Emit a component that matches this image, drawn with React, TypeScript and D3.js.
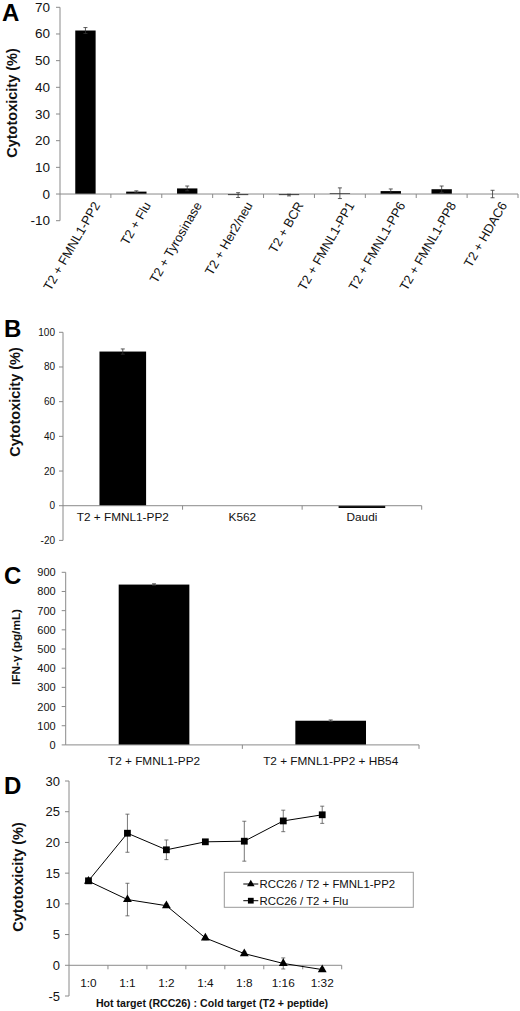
import React from "react";
import * as d3 from "d3";

// ---------- Panel A ----------
const aCategories = [
  "T2 + FMNL1-PP2",
  "T2 + Flu",
  "T2 + Tyrosinase",
  "T2 + Her2/neu",
  "T2 + BCR",
  "T2 + FMNL1-PP1",
  "T2 + FMNL1-PP6",
  "T2 + FMNL1-PP8",
  "T2 + HDAC6",
];
const aValues = [61.3, 0.9, 2.1, -0.4, -0.4, 0.3, 1.1, 1.8, 0];
const aErrors = [1.1, 0.3, 0.9, 0.9, 0.3, 2.0, 0.8, 1.2, 1.4];
const aTicks = [-10, 0, 10, 20, 30, 40, 50, 60, 70];

// ---------- Panel B ----------
const bCategories = ["T2 + FMNL1-PP2", "K562", "Daudi"];
const bValues = [88.9, 0, -1.3];
const bErrors = [1.5, 0, 0];
const bTicks = [-20, 0, 20, 40, 60, 80, 100];

// ---------- Panel C ----------
const cCategories = ["T2 + FMNL1-PP2", "T2 + FMNL1-PP2 + HB54"];
const cValues = [836, 126];
const cErrors = [4, 4];
const cTicks = [0, 100, 200, 300, 400, 500, 600, 700, 800, 900];

// ---------- Panel D ----------
const dCategories = ["1:0", "1:1", "1:2", "1:4", "1:8", "1:16", "1:32"];
const dFmnlValues = [13.7, 10.7, 9.7, 4.45, 1.9, 0.3, -0.7];
const dFmnlErrors = [0.3, 2.65, 0.3, 0.3, 0.3, 0.9, 0.3];
const dFluValues = [13.75, 21.5, 18.8, 20.1, 20.2, 23.5, 24.5];
const dFluErrors = [0.3, 3.1, 1.6, 0.3, 3.25, 1.75, 1.4];
const dTicks = [-5, 0, 5, 10, 15, 20, 25, 30];
const dSeriesNames = ["RCC26 / T2 + FMNL1-PP2", "RCC26 / T2 + Flu"];

const FONT = "'Liberation Sans', Arial, Helvetica, sans-serif";
const AXIS = "#8a8a8a";
const TEXT = "#111";

type BarProps = {
  cats: string[];
  vals: number[];
  errs: number[];
  ticks: number[];
  left: number;
  right: number;
  top: number;
  bottom: number;
  barRatio: number;
  tickFont: number;
  tickGap: number;
  labelMode: "rot" | "flat";
  labelFont: number;
  labelY: number;
};

function BarPanel(p: BarProps) {
  const dom = d3.extent(p.ticks) as [number, number];
  const y = d3.scaleLinear().domain(dom).range([p.bottom, p.top]);
  const x = d3.scaleBand<string>().domain(p.cats).range([p.left, p.right]).padding(0);
  const bw = x.bandwidth();
  const barW = bw * p.barRatio;
  const y0 = y(0);
  return (
    <g>
      {p.cats.map((c, i) => {
        const cx = (x(c) as number) + bw / 2;
        const v = p.vals[i];
        const yt = y(Math.max(v, 0));
        const yb = y(Math.min(v, 0));
        return (
          <rect key={"b" + i} x={cx - barW / 2} y={yt} width={barW} height={Math.max(yb - yt, 0)} fill="#000" />
        );
      })}
      <line x1={p.left} x2={p.left} y1={p.top} y2={p.bottom} stroke={AXIS} strokeWidth={1} />
      {p.ticks.map((t) => (
        <g key={"t" + t}>
          <line x1={p.left - 4} x2={p.left} y1={y(t)} y2={y(t)} stroke={AXIS} strokeWidth={1} />
          <text
            x={p.left - p.tickGap}
            y={y(t)}
            textAnchor="end"
            dominantBaseline="central"
            fontSize={p.tickFont}
            fontFamily={FONT}
            fill={TEXT}
          >
            {t}
          </text>
        </g>
      ))}
      <line x1={p.left} x2={p.right} y1={y0} y2={y0} stroke={AXIS} strokeWidth={1} />
      {p.cats.map((c, i) => (
        <line
          key={"xt" + i}
          x1={(x(c) as number) + bw}
          x2={(x(c) as number) + bw}
          y1={y0}
          y2={y0 + 4}
          stroke={AXIS}
          strokeWidth={1}
        />
      ))}
      {p.cats.map((c, i) => {
        const e = p.errs[i];
        if (!e) return null;
        const cx = (x(c) as number) + bw / 2;
        const v = p.vals[i];
        return (
          <g key={"e" + i} stroke="#333" strokeWidth={0.8}>
            <line x1={cx} x2={cx} y1={y(v + e)} y2={y(v - e)} />
            <line x1={cx - 2} x2={cx + 2} y1={y(v + e)} y2={y(v + e)} />
            <line x1={cx - 2} x2={cx + 2} y1={y(v - e)} y2={y(v - e)} />
          </g>
        );
      })}
      {p.cats.map((c, i) => {
        const cx = (x(c) as number) + bw / 2;
        if (p.labelMode === "rot") {
          return (
            <text
              key={"l" + i}
              transform={`translate(${cx + 15},${p.labelY}) rotate(-60)`}
              textAnchor="end"
              fontSize={p.labelFont}
              fontFamily={FONT}
              fill={TEXT}
            >
              {c}
            </text>
          );
        }
        return (
          <text
            key={"l" + i}
            x={cx}
            y={p.labelY}
            textAnchor="middle"
            dominantBaseline="central"
            fontSize={p.labelFont}
            fontFamily={FONT}
            fill={TEXT}
          >
            {c}
          </text>
        );
      })}
    </g>
  );
}

function YTitle({ x, y, text, size }: { x: number; y: number; text: string; size: number }) {
  return (
    <text
      transform={`translate(${x},${y}) rotate(-90)`}
      textAnchor="middle"
      fontSize={size}
      fontWeight="bold"
      fontFamily={FONT}
      fill={TEXT}
    >
      {text}
    </text>
  );
}

function PanelLetter({ x, y, t }: { x: number; y: number; t: string }) {
  return (
    <text x={x} y={y} fontSize={24} fontWeight="bold" fontFamily={FONT} fill="#000">
      {t}
    </text>
  );
}

function LinePanel() {
  const left = 69;
  const right = 341.7;
  const y = d3.scaleLinear().domain([-5, 30]).range([996, 781]);
  const x = d3.scaleBand<string>().domain(dCategories).range([left, right]).padding(0);
  const bw = x.bandwidth();
  const cx = (c: string) => (x(c) as number) + bw / 2;
  const y0 = y(0);
  const line = d3
    .line<number>()
    .x((_, i) => cx(dCategories[i]))
    .y((v) => y(v));
  const tri = d3.symbol().type(d3.symbolTriangle).size(34)() as string;
  const sq = d3.symbol().type(d3.symbolSquare).size(46)() as string;

  const errs = (vals: number[], errs: number[], key: string) =>
    vals.map((v, i) => {
      const e = errs[i];
      const xx = cx(dCategories[i]);
      return (
        <g key={key + i} stroke="#555" strokeWidth={0.8}>
          <line x1={xx} x2={xx} y1={y(v + e)} y2={y(v - e)} />
          <line x1={xx - 2} x2={xx + 2} y1={y(v + e)} y2={y(v + e)} />
          <line x1={xx - 2} x2={xx + 2} y1={y(v - e)} y2={y(v - e)} />
        </g>
      );
    });

  return (
    <g>
      <line x1={left} x2={left} y1={y(30)} y2={y(-5)} stroke={AXIS} />
      {dTicks.map((t) => (
        <g key={"dt" + t}>
          <line x1={left - 4} x2={left} y1={y(t)} y2={y(t)} stroke={AXIS} />
          <text
            x={left - 9}
            y={y(t)}
            textAnchor="end"
            dominantBaseline="central"
            fontSize={13}
            fontFamily={FONT}
            fill={TEXT}
          >
            {t}
          </text>
        </g>
      ))}
      <line x1={left} x2={right} y1={y0} y2={y0} stroke={AXIS} />
      {dCategories.map((c, i) => (
        <g key={"dx" + i}>
          <line x1={(x(c) as number) + bw} x2={(x(c) as number) + bw} y1={y0} y2={y0 + 4} stroke={AXIS} />
          <text
            x={cx(c)}
            y={983.3}
            textAnchor="middle"
            dominantBaseline="central"
            fontSize={11.8}
            fontFamily={FONT}
            fill={TEXT}
          >
            {c}
          </text>
        </g>
      ))}
      {errs(dFmnlValues, dFmnlErrors, "ef")}
      {errs(dFluValues, dFluErrors, "eu")}
      <path d={line(dFmnlValues) as string} fill="none" stroke="#000" strokeWidth={1} />
      <path d={line(dFluValues) as string} fill="none" stroke="#000" strokeWidth={1} />
      {dFmnlValues.map((v, i) => (
        <path key={"tr" + i} d={tri} transform={`translate(${cx(dCategories[i])},${y(v)})`} fill="#000" />
      ))}
      {dFluValues.map((v, i) => (
        <path key={"sq" + i} d={sq} transform={`translate(${cx(dCategories[i])},${y(v)})`} fill="#000" />
      ))}
      <rect x={224.3} y={872.3} width={189} height={35} fill="#fff" stroke="#999" strokeWidth={1} />
      {dSeriesNames.map((n, i) => {
        const ly = 884 + i * 16.7;
        return (
          <g key={"lg" + i}>
            <line x1={243.3} x2={258.3} y1={ly} y2={ly} stroke="#000" />
            <path d={i === 0 ? tri : sq} transform={`translate(250.8,${ly}) scale(0.85)`} fill="#000" />
            <text x={259.5} y={ly} dominantBaseline="central" fontSize={11.4} fontFamily={FONT} fill={TEXT}>
              {n}
            </text>
          </g>
        );
      })}
      <text
        x={212}
        y={1003}
        textAnchor="middle"
        dominantBaseline="central"
        fontSize={10.6}
        fontWeight="bold"
        fontFamily={FONT}
        fill={TEXT}
      >
        Hot target (RCC26) : Cold target (T2 + peptide)
      </text>
    </g>
  );
}

export default function App() {
  return (
    <svg
      width={520}
      height={1011}
      viewBox="0 0 520 1011"
      style={{ position: "absolute", left: 0, top: 0, background: "#fff" }}
    >
      <rect x={0} y={0} width={520} height={1011} fill="#fff" />
      <PanelLetter x={2} y={21} t="A" />
      <YTitle x={17} y={103} text="Cytotoxicity (%)" size={14.5} />
      <BarPanel
        cats={aCategories}
        vals={aValues}
        errs={aErrors}
        ticks={aTicks}
        left={60}
        right={518}
        top={7.3}
        bottom={220.7}
        barRatio={0.4}
        tickFont={13.5}
        tickGap={10}
        labelMode="rot"
        labelFont={12.8}
        labelY={205}
      />
      <PanelLetter x={4} y={337} t="B" />
      <YTitle x={19.5} y={402} text="Cytotoxicity (%)" size={14.5} />
      <BarPanel
        cats={bCategories}
        vals={bValues}
        errs={bErrors}
        ticks={bTicks}
        left={63}
        right={421.7}
        top={332.3}
        bottom={540.4}
        barRatio={0.39}
        tickFont={10}
        tickGap={8}
        labelMode="flat"
        labelFont={11.8}
        labelY={517}
      />
      <PanelLetter x={4} y={583.5} t="C" />
      <YTitle x={20} y={647} text="IFN-γ (pg/mL)" size={11.8} />
      <BarPanel
        cats={cCategories}
        vals={cValues}
        errs={cErrors}
        ticks={cTicks}
        left={65.7}
        right={419}
        top={572.3}
        bottom={744.9}
        barRatio={0.4}
        tickFont={11}
        tickGap={10}
        labelMode="flat"
        labelFont={11.8}
        labelY={760.7}
      />
      <PanelLetter x={4} y={793.5} t="D" />
      <YTitle x={23} y={877} text="Cytotoxicity (%)" size={14.5} />
      <LinePanel />
    </svg>
  );
}
